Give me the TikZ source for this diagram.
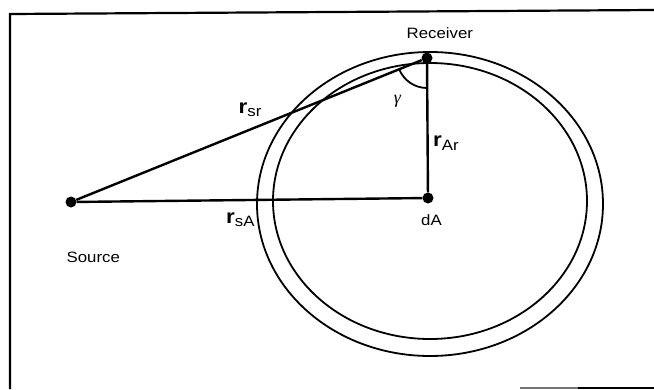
\documentclass[tikz,border=0pt]{standalone}
\usepackage{fontspec}
\setmainfont[FakeStretch=1.12]{Liberation Sans}
\newfontfamily\gfont{Liberation Serif}
\begin{document}
\begin{tikzpicture}[x=1pt,y=-1pt,
  dot/.style={circle,fill=black,inner sep=0pt,minimum size=11pt},
  ray/.style={line width=2.4pt},
  ring/.style={line width=1.8pt},
  frame/.style={line width=2.2pt},
  lbl/.style={font=\fontsize{15}{17}\selectfont,inner sep=0pt,anchor=base west},
  rl/.style={inner sep=0pt,anchor=base west}
 ]
\useasboundingbox (0,0) rectangle (654,389);
% frame
\draw[frame] (654,10) -- (10,14) -- (10,389);
\draw[line width=1.5pt,black!55] (520,388) -- (578,388);
\draw[frame] (578,388) -- (654,388);
% rings
\draw[ring] (430,204) ellipse [x radius=173, y radius=152];
\draw[ring] (430,201) ellipse [x radius=157, y radius=138];
% points
\node[dot] (S) at (71,202) {};
\node[dot] (A) at (428,198) {};
\node[dot] (R) at (427,58) {};
% connectors
\draw[ray] (S) -- (R);
\draw[ray] (S) -- (A);
\draw[ray] (R) -- (A);
% angle
\draw[line width=1.8pt] (R.center) ++(158:30) arc[start angle=158,end angle=90,radius=30];
% labels
\node[lbl] (tR) at (406.5,38.3) {Receiver};
\node[lbl] (tS) at (66.5,262.5) {Source};
\node[lbl] (tA) at (421,225) {dA};
\node[inner sep=0pt] (g) at (397.5,101.5) {\fontsize{18}{20}\selectfont\gfont\itshape γ};
\node[rl] (rsr) at (238.5,113.3) {\fontsize{20}{22}\selectfont\bfseries r\raisebox{-3.4pt}{\fontsize{15}{17}\selectfont\mdseries sr}};
\node[rl] (rAr) at (433,146.7) {\fontsize{20}{22}\selectfont\bfseries r\raisebox{-3.4pt}{\fontsize{15}{17}\selectfont\mdseries Ar}};
\node[rl] (rsA) at (226,223.3) {\fontsize{20}{22}\selectfont\bfseries r\raisebox{-3.4pt}{\fontsize{15}{17}\selectfont\mdseries sA}};
\end{tikzpicture}
\end{document}
